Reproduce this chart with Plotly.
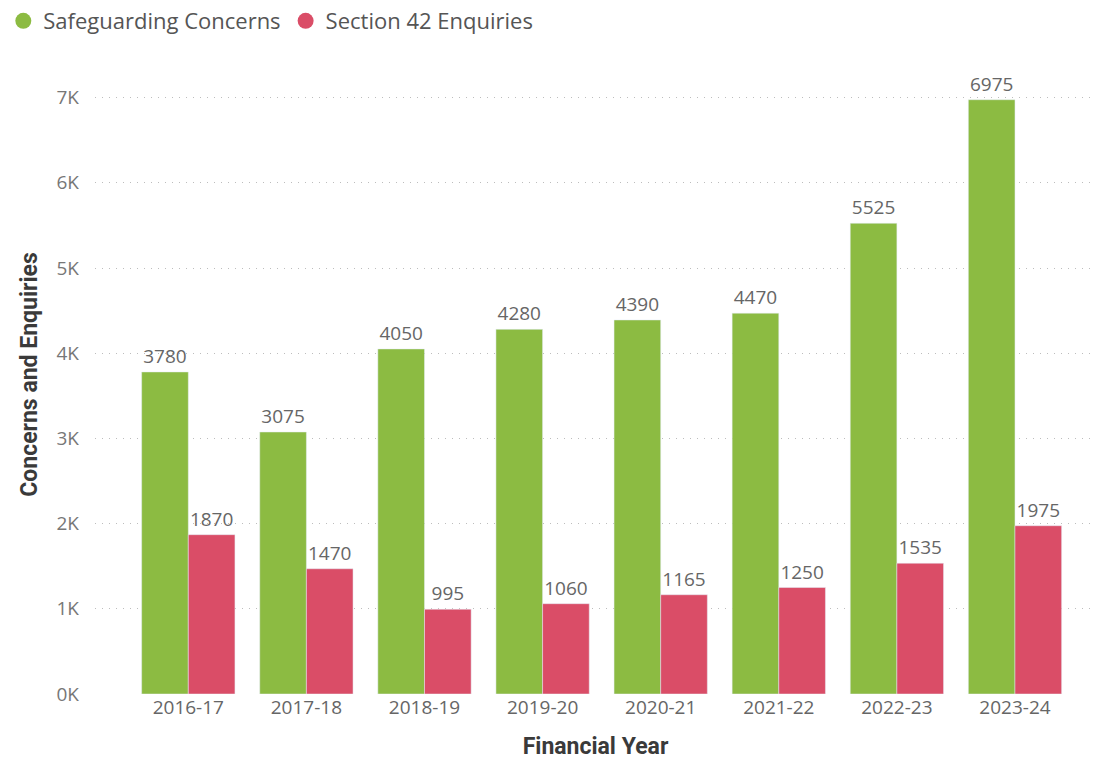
import plotly.graph_objects as go

years = ["2016-17", "2017-18", "2018-19", "2019-20", "2020-21", "2021-22", "2022-23", "2023-24"]
concerns = [3780, 3075, 4050, 4280, 4390, 4470, 5525, 6975]
enquiries = [1870, 1470, 995, 1060, 1165, 1250, 1535, 1975]
tick_vals = [0, 1000, 2000, 3000, 4000, 5000, 6000, 7000]
tick_text = ["0K", "1K", "2K", "3K", "4K", "5K", "6K", "7K"]

GREEN = "#8CBB42"
RED = "#DA4D67"
BASE = "Open Sans, Noto Sans, sans-serif"
LABEL_FONT = dict(family=BASE, size=19, color="#666666")
TITLE_FONT = dict(family="Roboto, sans-serif", size=23, color="#3A3A3A", weight="bold")

fig = go.Figure()
fig.add_trace(go.Bar(x=years, y=concerns, name="Safeguarding Concerns", marker_color=GREEN,
                     text=concerns, textposition="outside", textfont=LABEL_FONT,
                     cliponaxis=False, showlegend=False))
fig.add_trace(go.Bar(x=years, y=enquiries, name="Section 42 Enquiries", marker_color=RED,
                     text=enquiries, textposition="outside", textfont=LABEL_FONT,
                     cliponaxis=False, showlegend=False))
# legend entries with circle markers
fig.add_trace(go.Scatter(x=[None], y=[None], mode="markers", name="Safeguarding Concerns",
                         marker=dict(symbol="circle", size=18, color=GREEN)))
fig.add_trace(go.Scatter(x=[None], y=[None], mode="markers", name="Section 42 Enquiries",
                         marker=dict(symbol="circle", size=18, color=RED)))

fig.update_layout(
    width=1101, height=761,
    paper_bgcolor="white", plot_bgcolor="white",
    margin=dict(l=95, r=5, t=55, b=67),
    barmode="group", bargap=0.21, bargroupgap=0,
    font=dict(family=BASE, color="#666666"),
    legend=dict(orientation="h", xref="container", yref="container",
                x=0.003, y=1.0, xanchor="left", yanchor="top",
                font=dict(family=BASE, size=22, color="#555555"),
                itemwidth=30, tracegroupgap=0, traceorder="normal"),
    xaxis=dict(type="category", range=[-0.79, 7.686], showgrid=False, zeroline=False,
               showline=False, ticks="", tickfont=dict(family=BASE, size=19, color="#666666"),
               title=dict(text="Financial Year", standoff=18, font=TITLE_FONT)),
    yaxis=dict(range=[0, 7500], tickvals=tick_vals, ticktext=tick_text,
               showgrid=True, gridcolor="#BDBDBD", griddash="1px,6px", gridwidth=1,
               zeroline=False, showline=False, ticks="", ticklabelstandoff=15,
               tickfont=dict(family=BASE, size=19, color="#777777"),
               title=dict(text="Concerns and Enquiries", standoff=12, font=TITLE_FONT)),
)

fig.write_html("out.html", config={"displayModeBar": False},
               post_script="document.body.style.margin='0px';")
